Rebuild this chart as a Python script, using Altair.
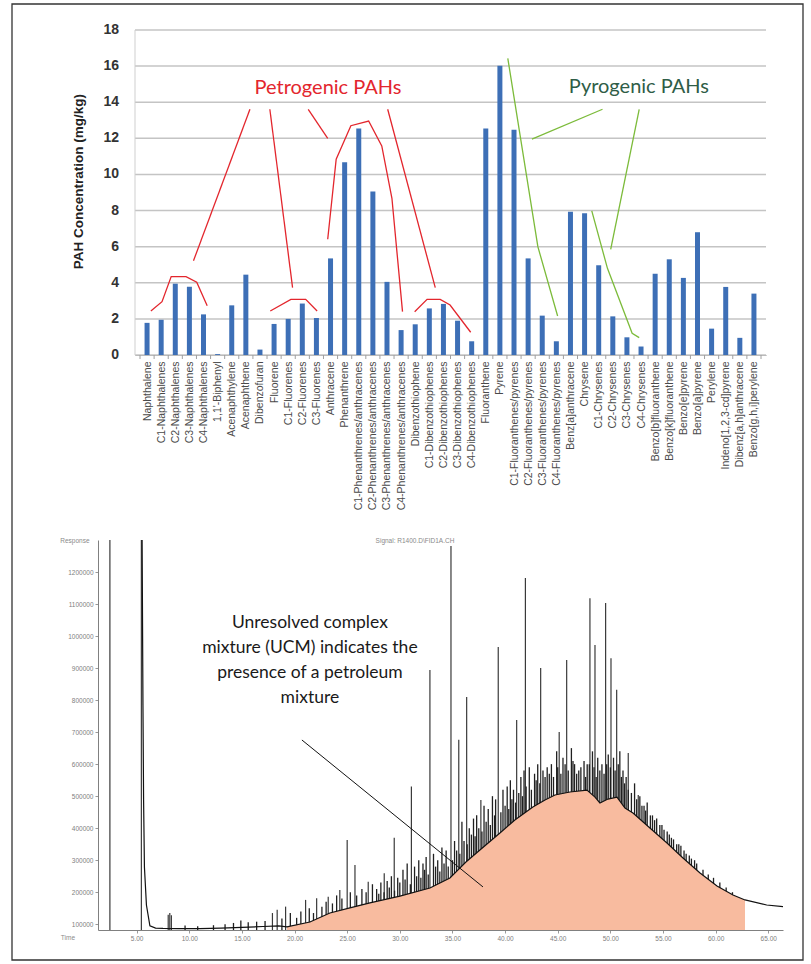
import json
import altair as alt
import pandas as pd

# ---------------- PAH bar chart ----------------
compounds = [
    "Naphthalene", "C1-Naphthalenes", "C2-Naphthalenes", "C3-Naphthalenes", "C4-Naphthalenes",
    "1,1'-Biphenyl", "Acenaphthylene", "Acenaphthene", "Dibenzofuran", "Fluorene",
    "C1-Fluorenes", "C2-Fluorenes", "C3-Fluorenes", "Anthracene", "Phenanthrene",
    "C1-Phenanthrenes/anthracenes", "C2-Phenanthrenes/anthracenes",
    "C3-Phenanthrenes/anthracenes", "C4-Phenanthrenes/anthracenes",
    "Dibenzothiophene", "C1-Dibenzothiophenes", "C2-Dibenzothiophenes",
    "C3-Dibenzothiophenes", "C4-Dibenzothiophenes",
    "Fluoranthene", "Pyrene", "C1-Fluoranthenes/pyrenes", "C2-Fluoranthenes/pyrenes",
    "C3-Fluoranthenes/pyrenes", "C4-Fluoranthenes/pyrenes",
    "Benz[a]anthracene", "Chrysene", "C1-Chrysenes", "C2-Chrysenes", "C3-Chrysenes", "C4-Chrysenes",
    "Benzo[b]fluoranthene", "Benzo[k]fluoranthene", "Benzo[e]pyrene", "Benzo[a]pyrene", "Perylene",
    "Indeno[1,2,3-cd]pyrene", "Dibenz[a,h]anthracene", "Benzo[g,h,i]perylene",
]
concentrations = [
    1.78, 1.95, 3.95, 3.78, 2.25, 0.05, 2.75, 4.45, 0.30, 1.72,
    2.00, 2.85, 2.05, 5.35, 10.68, 12.55, 9.05, 4.05, 1.38, 1.70,
    2.58, 2.83, 1.90, 0.76, 12.55, 16.02, 12.48, 5.35, 2.18, 0.76,
    7.94, 7.85, 4.97, 2.14, 0.98, 0.47, 4.50, 5.30, 4.27, 6.80,
    1.46, 3.77, 0.95, 3.40,
]
conc_ticks = [0, 2, 4, 6, 8, 10, 12, 14, 16, 18]

# leader lines, in (bar position, mg/kg)
petrogenic_paths = [
    [(8.29, 13.61), (4.29, 5.22)],
    [(1.27, 2.44), (2.06, 2.95), (2.71, 4.34), (3.76, 4.34), (4.52, 4.03), (5.26, 2.73)],
    [(9.70, 13.61), (11.31, 3.73)],
    [(9.73, 2.44), (11.19, 3.08), (12.24, 3.08), (13.05, 2.44)],
    [(12.42, 13.61), (13.80, 12.00)],
    [(13.80, 6.41), (14.40, 10.84), (15.44, 12.70), (16.70, 12.96), (17.63, 11.58),
     (18.35, 8.68), (19.10, 2.40)],
    [(18.05, 13.61), (21.42, 3.73)],
    [(19.96, 2.40), (20.84, 3.08), (21.77, 3.08), (22.47, 2.77), (23.93, 1.26)],
]
pyrogenic_paths = [
    [(26.56, 16.43), (28.69, 6.00), (30.09, 2.16)],
    [(33.27, 13.61), (28.27, 11.96)],
    [(35.87, 13.61), (33.85, 5.85)],
    [(32.51, 7.98), (33.62, 4.80), (35.37, 1.20), (35.87, 0.96)],
]

# ---------------- GC-FID chromatogram ----------------
peak_times = [2.46, 5.45, 8.00, 8.15, 8.30, 17.90, 18.35, 19.15, 21.05, 22.10, 23.20, 24.30,
              25.00, 25.74, 27.00, 28.52, 29.47, 31.10, 32.86, 34.86, 35.60, 36.35, 37.70,
              39.35, 41.10, 41.93, 43.38, 45.14, 45.85, 48.06, 48.54, 49.55, 50.06, 50.60,
              51.70, 52.65]
peak_heights = [1300000, 1300000, 130000, 135000, 128000, 135000, 145000, 155000, 176000,
                181000, 186000, 207000, 363000, 285000, 233000, 259000, 370000, 530000,
                894000, 1281000, 676000, 810000, 488000, 966000, 738000, 1181000, 900000,
                700000, 925000, 1118000, 972000, 1103000, 931000, 832000, 635000, 504000]

# smaller resolved peaks riding on the baseline and the hump
minor_times = [9.6, 10.8, 12.3, 13.4, 14.2, 14.9, 15.6, 16.4, 17.2, 18.8,
               19.6, 20.2, 20.6, 21.4, 21.8, 22.6, 23.0, 23.6, 24.0, 24.5, 25.3, 25.9,
               26.4, 26.8, 27.4, 27.8, 28.2, 28.8, 29.2, 29.8, 30.3, 30.7, 31.4, 31.8,
               32.2, 32.5, 33.2, 33.6, 34.0, 34.4, 35.2, 35.9, 36.6, 37.0, 37.3, 38.0,
               38.4, 38.8, 39.1, 39.8, 40.2, 40.5, 40.8, 41.5, 41.8, 42.3, 42.8, 43.1,
               43.6, 44.0, 44.4, 44.9, 45.5, 46.3, 46.6, 47.0, 47.5, 47.8, 48.3, 48.8,
               49.2, 49.8, 50.3, 50.9, 51.2, 51.5, 52.3, 52.8, 53.2, 53.5, 54.0, 54.4,
               54.9, 55.4, 55.8, 56.3, 56.7, 57.2, 57.7, 58.2, 58.8, 59.3, 59.8, 60.4,
               61.0, 61.6]
minor_heights = [96000, 94000, 97000, 100000, 104000, 112000, 106000, 108000, 110000, 118000,
                 135000, 120000, 140000, 150000, 135000, 155000, 170000, 165000, 190000,
                 180000, 200000, 190000, 210000, 200000, 225000, 210000, 230000, 235000,
                 250000, 245000, 270000, 290000, 280000, 300000, 290000, 310000, 320000,
                 300000, 340000, 330000, 360000, 420000, 400000, 430000, 440000, 470000,
                 460000, 500000, 490000, 520000, 530000, 550000, 520000, 560000, 580000,
                 590000, 570000, 600000, 580000, 590000, 600000, 640000, 620000, 650000,
                 600000, 580000, 610000, 600000, 640000, 620000, 600000, 630000, 620000,
                 640000, 580000, 560000, 540000, 500000, 470000, 480000, 440000, 430000,
                 410000, 390000, 370000, 350000, 345000, 320000, 305000, 290000, 270000,
                 255000, 245000, 230000, 215000, 200000]

# unresolved fuzz on top of the hump
fuzz_times = [28.0, 28.5, 29.0, 29.5, 30.0, 30.5, 31.0, 31.6, 32.0, 32.35, 32.7, 33.4, 33.8,
              34.2, 34.6, 35.0, 35.4, 35.7, 36.1, 36.4, 36.8, 37.15, 37.5, 37.8, 38.2, 38.6,
              39.0, 39.6, 40.0, 40.35, 40.65, 41.0, 41.3, 41.65, 42.0, 42.5, 42.95, 43.3,
              43.8, 44.2, 44.6, 45.0, 45.3, 45.7, 46.0, 46.45, 46.8, 47.2, 47.65, 48.0,
              48.45, 48.65, 49.0, 49.4, 49.65, 50.0, 50.45, 50.75, 51.05, 51.35, 51.7, 52.0,
              52.5, 53.0, 53.35, 53.8, 54.2, 54.7, 55.1, 55.6, 56.0, 56.5, 57.0, 57.5, 58.0]
fuzz_heights = [195000, 200000, 215000, 205000, 230000, 240000, 225000, 250000, 245000,
                270000, 255000, 280000, 265000, 290000, 280000, 300000, 330000, 320000,
                360000, 350000, 380000, 375000, 400000, 390000, 420000, 410000, 440000,
                450000, 470000, 460000, 490000, 480000, 510000, 500000, 530000, 520000,
                550000, 540000, 560000, 570000, 560000, 590000, 570000, 600000, 580000,
                610000, 570000, 590000, 560000, 600000, 590000, 560000, 580000, 570000,
                600000, 590000, 580000, 600000, 560000, 540000, 520000, 510000, 490000,
                470000, 455000, 440000, 425000, 410000, 395000, 380000, 365000, 350000,
                330000, 315000, 300000]

# unresolved complex mixture hump (upper edge)
ucm_times = [19.28, 21.46, 23.36, 25.26, 27.16, 30.01, 32.86, 34.76, 36.28, 37.61, 39.51,
             40.93, 42.64, 43.79, 44.74, 46.16, 47.78, 48.54, 49.01, 49.77, 50.63, 51.39,
             52.15, 53.76, 55.38, 56.90, 58.52, 60.13, 61.65, 62.79]
ucm_values = [92000, 107000, 135000, 151000, 166500, 188000, 213000, 244500, 294500, 332000,
              385000, 425600, 466000, 488000, 503500, 513000, 519000, 497000, 478700, 491000,
              497000, 463000, 447500, 400700, 353800, 307000, 260000, 219500, 191500, 175900]

# detector trace before and after the hump
lead_times = [5.52, 5.60, 5.66, 5.74, 5.93, 6.26, 6.8, 7.5, 9.0, 11.0, 13.0, 15.0, 17.0, 18.5]
lead_values = [1300000, 785000, 489000, 279000, 160000, 95000, 88000, 87000, 86000, 86500,
               88000, 90000, 93000, 95000]
tail_times = [64.85, 66.40]
tail_values = [160000, 155000]

time_ticks = [5, 10, 15, 20, 25, 30, 35, 40, 45, 50, 55, 60, 65]
response_ticks = [100000, 200000, 300000, 400000, 500000, 600000, 700000, 800000,
                  900000, 1000000, 1100000, 1200000]
ucm_note = ["Unresolved complex", "mixture (UCM) indicates the",
            "presence of a petroleum", "mixture"]

# ---------------- tables ----------------
bar_df = pd.DataFrame({"ix": list(range(1, len(compounds) + 1)), "conc": concentrations})
tick_df = pd.DataFrame({"v": conc_ticks})
edge_df = pd.DataFrame({"ix": [i + 0.5 for i in range(len(compounds) + 1)]})
one_df = pd.DataFrame({"a": [0]})


def paths_frame(paths):
    rows = []
    for p, pts in enumerate(paths):
        for k, (ix, val) in enumerate(pts):
            rows.append({"path": p, "k": k, "ix": ix, "conc": val})
    return pd.DataFrame(rows)


petro_df = paths_frame(petrogenic_paths)
pyro_df = paths_frame(pyrogenic_paths)
label_df = pd.DataFrame({
    "ix": [13.82, 35.85], "conc": [14.79, 14.86],
    "txt": ["Petrogenic PAHs", "Pyrogenic PAHs"], "c": ["#e3262d", "#2f5d47"],
})

# bar positions 1..44 occupy the band between pixel 37 and 668 of the panel
ix_scale = alt.Scale(domain=[0.5, len(compounds) + 0.5], range=[37, 668], nice=False, zero=False)
y_top = alt.Scale(domain=[0, 18], nice=False)
name_axis = alt.Axis(
    values=list(range(1, len(compounds) + 1)),
    labelExpr=json.dumps(compounds) + "[datum.value - 1]",
    title=None, labelAngle=270, labelFontSize=10.5, labelColor="#4a4a4a",
    labelFont="Liberation Sans", domainColor="#a0a0a0", ticks=False,
    labelPadding=6, labelLimit=300, grid=False, labelOverlap=False)
XT = alt.X("ix:Q", scale=ix_scale, axis=name_axis)
YT = alt.Y("conc:Q", scale=y_top, axis=None)

grid = alt.Chart(tick_df).mark_rule(color="#c4c4c4", strokeWidth=1.5).encode(
    y=alt.Y("v:Q", scale=y_top, axis=None), x=alt.value(37), x2=alt.value(668))
y_line = alt.Chart(one_df).mark_rule(color="#cfcfcf", strokeWidth=1).encode(
    x=alt.value(37), y=alt.value(0), y2=alt.value(325))
edge_ticks = alt.Chart(edge_df).mark_rule(color="#a0a0a0", strokeWidth=1).encode(
    x=XT, y=alt.value(325), y2=alt.value(329))
bars = alt.Chart(bar_df).mark_bar(size=5, color="#3d6fb6").encode(x=XT, y=YT)
petro = alt.Chart(petro_df).mark_line(color="#e3262d", strokeWidth=1.3).encode(
    x=XT, y=YT, detail="path:N", order="k:Q")
pyro = alt.Chart(pyro_df).mark_line(color="#7cbb3a", strokeWidth=1.3).encode(
    x=XT, y=YT, detail="path:N", order="k:Q")
group_labels = alt.Chart(label_df).mark_text(font="Lato", fontSize=20).encode(
    x=XT, y=YT, text="txt:N", color=alt.Color("c:N", scale=None))
y_labels = alt.Chart(tick_df).mark_text(
    align="right", baseline="middle", fontSize=14, fontWeight="bold",
    font="Liberation Sans", color="#333333").encode(
    x=alt.value(21), y=alt.Y("v:Q", scale=y_top, axis=None), text="v:Q")
y_title = alt.Chart(one_df).mark_text(
    angle=270, fontSize=13.5, fontWeight="bold", font="Liberation Sans",
    color="#222222").encode(
    x=alt.value(-19), y=alt.value(151.7), text=alt.value("PAH Concentration (mg/kg)"))
frame = alt.Chart(one_df).mark_rect(filled=False, stroke="#333333", strokeWidth=1.3).encode(
    x=alt.value(-86), x2=alt.value(705), y=alt.value(-26), y2=alt.value(930))

top = alt.layer(grid, y_line, edge_ticks, bars, petro, pyro, group_labels, y_labels,
                y_title, frame).properties(width=685, height=325)

# ---------------- chromatogram panel ----------------
BASE = 82000
peak_df = pd.DataFrame({"t": peak_times, "r": peak_heights, "base": BASE})
minor_df = pd.DataFrame({"t": minor_times + fuzz_times, "r": minor_heights + fuzz_heights,
                         "base": BASE})
ucm_df = pd.DataFrame({"t": ucm_times, "r": ucm_values, "base": BASE})
trace_df = pd.DataFrame({"t": lead_times + ucm_times + tail_times,
                         "r": lead_values + ucm_values + tail_values})
note_df = pd.DataFrame({"txt": ucm_note, "t": [21.46] * 4,
                        "r": [1040700, 962600, 884600, 806500]})
pointer_df = pd.DataFrame({"t": [20.70, 37.90], "r": [675400, 216500]})
small_df = pd.DataFrame({
    "txt": ["Signal: R1400.D\\FID1A.CH", "Response", "Time"],
    "t": [31.44, -0.86, -1.53], "r": [1297000, 1297000, 57200]})

xs = alt.Scale(domain=[1.33, 66.4], nice=False, zero=False)
ys = alt.Scale(domain=[BASE, 1300000], nice=False, zero=False)
x_axis = alt.Axis(values=time_ticks, format=".2f", title=None, labelFontSize=6.5,
                  labelColor="#808080", labelFont="Liberation Sans", tickSize=3,
                  tickColor="#999999", domainColor="#808080", grid=False, labelPadding=2)
y_axis = alt.Axis(values=response_ticks, format="d", title=None, labelFontSize=6.5,
                  labelColor="#808080", labelFont="Liberation Sans", tickSize=3,
                  tickColor="#999999", domainColor="#808080", grid=False, labelPadding=2)
X = alt.X("t:Q", scale=xs, axis=x_axis)
Y = alt.Y("r:Q", scale=ys, axis=y_axis)

peaks = alt.Chart(peak_df).mark_rule(color="#3a3a3a", strokeWidth=1.2, clip=True).encode(
    x=X, y=Y, y2="base:Q")
minor = alt.Chart(minor_df).mark_rule(color="#202020", strokeWidth=1.3, clip=True).encode(
    x=X, y=Y, y2="base:Q")
ucm = alt.Chart(ucm_df).mark_area(color="#f8bb9f", opacity=1, clip=True).encode(
    x=X, y=Y, y2="base:Q")
trace = alt.Chart(trace_df).mark_line(color="#111111", strokeWidth=1.2, clip=True).encode(
    x=X, y=Y)
pointer = alt.Chart(pointer_df).mark_line(color="#111111", strokeWidth=1).encode(x=X, y=Y)
note = alt.Chart(note_df).mark_text(font="Lato", fontSize=17.5, color="#1a1a1a").encode(
    x=X, y=Y, text="txt:N")
small = alt.Chart(small_df).mark_text(
    fontSize=6.5, color="#8a8a8a", font="Liberation Sans").encode(x=X, y=Y, text="txt:N")

bottom = alt.layer(peaks, minor, ucm, trace, pointer, note, small).properties(
    width=685, height=390)

chart = alt.vconcat(top, bottom, spacing=185, bounds="flush").properties(
    padding={"left": 11, "top": 3, "right": 7, "bottom": 3},
    background="white",
).configure_view(strokeWidth=0)

chart.save("out.html", embed_options={"renderer": "svg", "actions": False})
